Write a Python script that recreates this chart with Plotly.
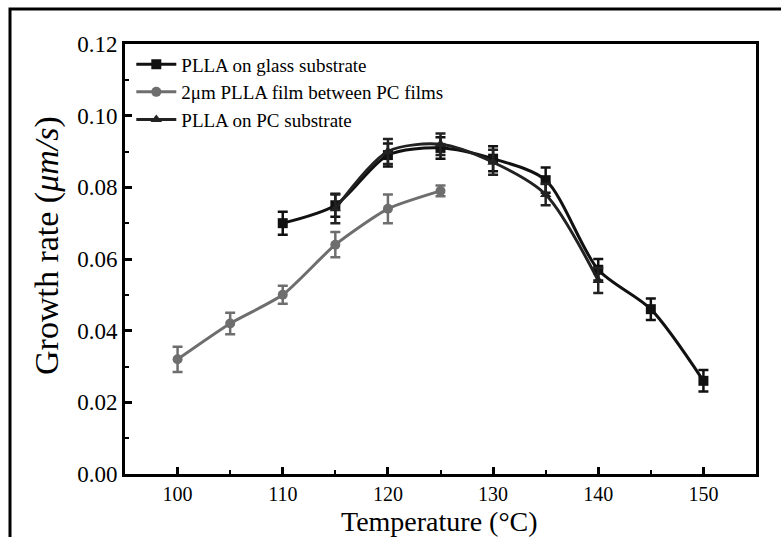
import plotly.graph_objects as go

# Data
x_glass = [110, 115, 120, 125, 130, 135, 140, 145, 150]
y_glass = [0.070, 0.075, 0.089, 0.091, 0.088, 0.082, 0.057, 0.046, 0.026]
e_glass = [0.0032, 0.0032, 0.0032, 0.0030, 0.0035, 0.0035, 0.0030, 0.0030, 0.0030]

x_film = [100, 105, 110, 115, 120, 125]
y_film = [0.032, 0.042, 0.050, 0.064, 0.074, 0.079]
e_film = [0.0035, 0.0030, 0.0025, 0.0035, 0.0040, 0.0015]

x_pc = [115, 120, 125, 130, 135, 140]
y_pc = [0.074, 0.090, 0.092, 0.087, 0.078, 0.054]
e_pc = [0.0040, 0.0035, 0.0030, 0.0035, 0.0030, 0.0035]

names = ["PLLA on glass substrate", "2\u03bcm PLLA film between PC films", "PLLA on PC substrate"]

fig = go.Figure()
fig.add_trace(go.Scatter(
    x=x_glass, y=y_glass, name=names[0], mode="lines+markers",
    line=dict(color="#111111", width=3, shape="spline", smoothing=0.8),
    marker=dict(symbol="square", size=10, color="#111111"),
    error_y=dict(type="data", array=e_glass, color="#111111", thickness=2.5, width=5)))
fig.add_trace(go.Scatter(
    x=x_film, y=y_film, name=names[1], mode="lines+markers",
    line=dict(color="#6e6e6e", width=3, shape="spline", smoothing=0.6),
    marker=dict(symbol="circle", size=10, color="#6e6e6e"),
    error_y=dict(type="data", array=e_film, color="#6e6e6e", thickness=2.5, width=5)))
fig.add_trace(go.Scatter(
    x=x_pc, y=y_pc, name=names[2], mode="lines+markers",
    line=dict(color="#222222", width=3, shape="spline", smoothing=0.8),
    marker=dict(symbol="triangle-up", size=10, color="#222222"),
    error_y=dict(type="data", array=e_pc, color="#222222", thickness=2.5, width=5)))

L, R, T, B = 125, 25, 44, 63
W, H = 781, 537
pw, ph = W - L - R, H - T - B

def px(xp):
    return (xp - L) / pw

def py(yp):
    return 1 - (yp - T) / ph

fig.update_layout(
    width=W, height=H,
    margin=dict(l=L, r=R, t=T, b=B),
    paper_bgcolor="white", plot_bgcolor="white",
    font=dict(family="Liberation Serif, Times New Roman, serif", color="black"),
    showlegend=True,
    legend=dict(x=0.01, y=0.997, xanchor="left", yanchor="top",
                font=dict(size=19, family="Liberation Serif"),
                bgcolor="rgba(0,0,0,0)", tracegroupgap=0, itemwidth=40),
    xaxis=dict(range=[95, 155], tickvals=[100, 110, 120, 130, 140, 150],
               ticks="inside", ticklen=7, tickwidth=2.5, tickcolor="black",
               minor=dict(dtick=5, ticks="inside", ticklen=4, tickwidth=2, tickcolor="black"),
               showline=True, linewidth=3, linecolor="black", mirror=True,
               showgrid=False, zeroline=False, automargin=False,
               tickfont=dict(size=20)),
    yaxis=dict(range=[0, 0.12], tickvals=[0, 0.02, 0.04, 0.06, 0.08, 0.10, 0.12],
               ticktext=["0.00", "0.02", "0.04", "0.06", "0.08", "0.10", "0.12"],
               ticks="inside", ticklen=7, tickwidth=2.5, tickcolor="black",
               minor=dict(dtick=0.01, ticks="inside", ticklen=4, tickwidth=2, tickcolor="black"),
               showline=True, linewidth=3, linecolor="black", mirror=True,
               showgrid=False, zeroline=False, automargin=False,
               tickfont=dict(size=23)),
    annotations=[
        dict(text="Growth rate (<i>\u03bcm/s</i>)", textangle=-90,
             xref="paper", yref="paper", x=px(47), y=py(246),
             xanchor="center", yanchor="middle", showarrow=False,
             font=dict(size=34, family="Liberation Serif")),
        dict(text="Temperature (\u00b0C)",
             xref="paper", yref="paper", x=px(439), y=py(539),
             xanchor="center", yanchor="bottom", showarrow=False,
             font=dict(size=28, family="Liberation Serif")),
    ],
    shapes=[dict(type="rect", xref="paper", yref="paper",
                 x0=px(10), x1=px(790), y0=py(550), y1=py(9),
                 line=dict(color="black", width=3), fillcolor="rgba(0,0,0,0)", layer="below")],
)

fig.write_html("out.html")
